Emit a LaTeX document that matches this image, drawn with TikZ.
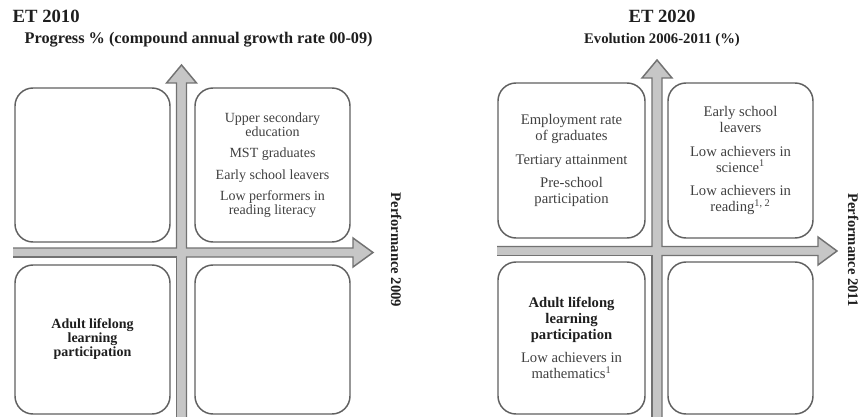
\documentclass[tikz,border=0pt]{standalone}
\usepackage{fontspec}
\setmainfont{Liberation Serif}
\definecolor{boxgray}{HTML}{606060}
\definecolor{txtgray}{HTML}{404040}
\definecolor{boldtxt}{HTML}{1E1E1E}
\definecolor{arrowfill}{HTML}{C6C6C6}
\definecolor{arrowline}{HTML}{727272}
\begin{document}
\begin{tikzpicture}[x=0.75pt,y=-0.75pt,
  qbox/.style={draw=boxgray, line width=1.1pt, rounded corners=13.5pt, align=center,
               inner sep=0pt, text=txtgray},
  lfont/.style={font=\fontsize{10.5}{10.5}\selectfont},
  rfont/.style={font=\fontsize{11}{12}\selectfont},
  axisfill/.style={fill=arrowfill, draw=none},
  axisline/.style={draw=arrowline, line width=1.1pt, line join=miter},
  title/.style={font=\bfseries\fontsize{14}{14}\selectfont, text=boldtxt},
  subtitle/.style={font=\bfseries\fontsize{11}{11}\selectfont, text=boldtxt},
  perf/.style={font=\bfseries\fontsize{11}{11}\selectfont, text=boldtxt, rotate=-90, anchor=base}]
\useasboundingbox (0,0) rectangle (860,417);

% ---------- left panel ----------
\node[title, anchor=base west] (t1) at (8,23) {ET 2010};
\node[subtitle, font=\bfseries\fontsize{12.2}{12.2}\selectfont, anchor=base west] (s1) at (20,44) {Progress \% (compound annual growth rate 00-09)};

\fill[axisfill] (13,248) -- (176.5,248) -- (176.5,83) -- (166.5,83) -- (181.5,65) -- (196.5,83)
  -- (186.5,83) -- (186.5,248) -- (353,248) -- (353,238) -- (373,252.5) -- (353,267) -- (353,257)
  -- (186.5,257) -- (186.5,425) -- (176.5,425) -- (176.5,257) -- (13,257) -- cycle;
\draw[axisline] (13,248) -- (176.5,248) -- (176.5,83) -- (166.5,83) -- (181.5,65) -- (196.5,83)
  -- (186.5,83) -- (186.5,248) -- (353,248) -- (353,238) -- (373,252.5) -- (353,267) -- (353,257)
  -- (186.5,257) -- (186.5,425);
\draw[axisline] (176.5,425) -- (176.5,257) -- (13,257);

\node[qbox, lfont, minimum width=116.25pt, minimum height=115.5pt] (ltl) at (92.5,165) {};
\node[qbox, lfont, minimum width=116.25pt, minimum height=115.5pt] (ltr) at (272.5,165)
  {Upper secondary\\education\\[5.5pt]MST graduates\\[5.5pt]Early school leavers\\[5.5pt]Low performers in\\reading literacy};
\node[qbox, lfont, minimum width=116.25pt, minimum height=111.75pt] (lbl) at (92.5,339.5)
  {\\[-4pt]\color{boldtxt}\bfseries Adult lifelong\\\color{boldtxt}\bfseries learning\\\color{boldtxt}\bfseries participation};
\node[qbox, lfont, minimum width=116.25pt, minimum height=111.75pt] (lbr) at (272.5,339.5) {};

\node[perf] (p1) at (391,250) {Performance 2009};

% ---------- right panel ----------
\node[title, anchor=base] (t2) at (662,23) {ET 2020};
\node[subtitle, anchor=base] (s2) at (662,44) {Evolution 2006-2011 (\%)};

\fill[axisfill] (497,246.5) -- (652,246.5) -- (652,78) -- (642,78) -- (657,60) -- (672,78)
  -- (662,78) -- (662,246.5) -- (818,246.5) -- (818,237) -- (837,251) -- (818,265) -- (818,255.5)
  -- (662,255.5) -- (662,425) -- (652,425) -- (652,255.5) -- (497,255.5) -- cycle;
\draw[axisline] (497,246.5) -- (652,246.5) -- (652,78) -- (642,78) -- (657,60) -- (672,78)
  -- (662,78) -- (662,246.5) -- (818,246.5) -- (818,237) -- (837,251) -- (818,265) -- (818,255.5)
  -- (662,255.5) -- (662,425);
\draw[axisline] (652,425) -- (652,255.5) -- (497,255.5);

\node[qbox, rfont, minimum width=110.25pt, minimum height=116.25pt] (rtl) at (571.5,160.5)
  {Employment rate\\of graduates\\[5.5pt]Tertiary attainment\\[5.5pt]Pre-school\\participation};
\node[qbox, rfont, minimum width=108.75pt, minimum height=116.25pt] (rtr) at (740.5,160.5)
  {Early school\\leavers\\[5.5pt]Low achievers in\\science\textsuperscript{1}\\[5.5pt]Low achievers in\\reading\textsuperscript{1, 2}};
\node[qbox, rfont, minimum width=110.25pt, minimum height=114pt] (rbl) at (571.5,338)
  {\color{boldtxt}\bfseries Adult lifelong\\\color{boldtxt}\bfseries learning\\\color{boldtxt}\bfseries participation\\[5.5pt]Low achievers in\\mathematics\textsuperscript{1}};
\node[qbox, rfont, minimum width=108.75pt, minimum height=114pt] (rbr) at (740.5,338) {};

\node[perf] (p2) at (848,250) {Performance 2011};
\end{tikzpicture}
\end{document}
